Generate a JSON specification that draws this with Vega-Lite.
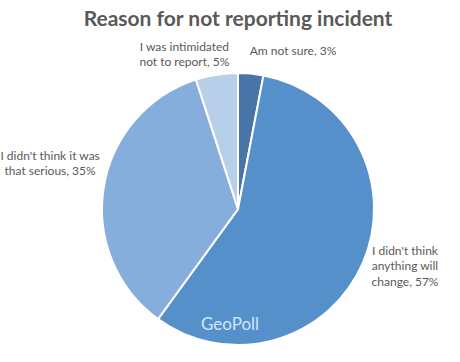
{
  "$schema": "https://vega.github.io/schema/vega-lite/v6.json",
  "autosize": "none",
  "width": 444,
  "height": 300,
  "padding": {"left": 16, "top": 59, "right": 0, "bottom": 3},
  "background": "white",
  "title": {"text": "Reason for not reporting incident", "font": "Lato", "fontSize": 21, "fontWeight": "bold", "color": "#595959", "anchor": "middle", "frame": "group", "offset": 19, "dy": 41},
  "data": {"values": [
    {"category": "Am not sure", "value": 3, "order": 1, "label": "Am not sure, 3%"},
    {"category": "I didn't think anything will change", "value": 57, "order": 2, "label": "I didn't think\nanything will\nchange, 57%"},
    {"category": "I didn't think it was that serious", "value": 35, "order": 3, "label": "I didn't think it was\nthat serious, 35%"},
    {"category": "I was intimidated not to report", "value": 5, "order": 4, "label": "I was intimidated\nnot to report, 5%"}
  ]},
  "encoding": {
    "theta": {"field": "value", "type": "quantitative", "stack": true},
    "order": {"field": "order", "type": "quantitative"}
  },
  "layer": [
    {
      "mark": {"type": "arc", "outerRadius": 136, "stroke": "white", "strokeWidth": 2},
      "encoding": {
        "color": {"field": "category", "type": "nominal", "legend": null,
          "scale": {"domain": ["Am not sure", "I didn't think anything will change", "I didn't think it was that serious", "I was intimidated not to report"],
                    "range": ["#4874a8", "#5590cb", "#86aedc", "#b8cfea"]}}
      }
    },
    {
      "mark": {"type": "text", "radius": 170, "font": "Lato", "fontSize": 12, "color": "#595959", "lineBreak": "\n", "lineHeight": 15, "dx": 39, "dy": 11},
      "encoding": {"text": {"condition": {"test": "datum.order == 1", "field": "label"}, "value": ""}}
    },
    {
      "mark": {"type": "text", "radius": 170, "font": "Lato", "fontSize": 12, "color": "#595959", "lineBreak": "\n", "lineHeight": 15.5, "dx": 11, "dy": -26},
      "encoding": {"text": {"condition": {"test": "datum.order == 2", "field": "label"}, "value": ""}}
    },
    {
      "mark": {"type": "text", "radius": 170, "font": "Lato", "fontSize": 12, "color": "#595959", "lineBreak": "\n", "lineHeight": 15, "dx": -20, "dy": -26},
      "encoding": {"text": {"condition": {"test": "datum.order == 3", "field": "label"}, "value": ""}}
    },
    {
      "mark": {"type": "text", "radius": 170, "font": "Lato", "fontSize": 12, "color": "#595959", "lineBreak": "\n", "lineHeight": 15, "dx": -27, "dy": 6},
      "encoding": {"text": {"condition": {"test": "datum.order == 4", "field": "label"}, "value": ""}}
    },
    {
      "data": {"values": [{"mark": "GeoPoll"}]},
      "mark": {"type": "text", "font": "Lato", "fontSize": 17, "color": "#d2e6fa"},
      "encoding": {
        "theta": {"value": 3.21},
        "radius": {"value": 116},
        "text": {"field": "mark"},
        "order": null
      }
    }
  ],
  "config": {"view": {"stroke": null}}
}
